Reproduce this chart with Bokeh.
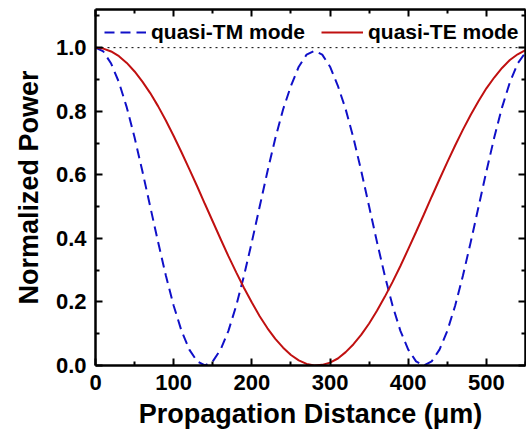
from bokeh.plotting import figure
from bokeh.models import (Range1d, LinearAxis, FixedTicker, Legend, LegendItem, Span,
                          CustomJSTickFormatter)
from bokeh.embed import file_html
from bokeh.resources import INLINE

distance = list(range(0, 551, 10))
tm_power = [1.000, 0.988, 0.950, 0.891, 0.812, 0.717, 0.611, 0.500, 0.389, 0.283,
            0.188, 0.109, 0.050, 0.013, 0.000, 0.013, 0.050, 0.109, 0.188, 0.283,
            0.389, 0.500, 0.611, 0.715, 0.806, 0.880, 0.940, 0.978, 0.990, 0.978,
            0.940, 0.880, 0.806, 0.715, 0.611, 0.500, 0.389, 0.283, 0.188, 0.109,
            0.050, 0.013, 0.000, 0.013, 0.050, 0.109, 0.188, 0.283, 0.389, 0.500,
            0.611, 0.717, 0.812, 0.891, 0.950, 0.985]
te_power = [1.000, 0.997, 0.988, 0.973, 0.952, 0.925, 0.893, 0.857, 0.816, 0.771,
            0.722, 0.671, 0.618, 0.564, 0.508, 0.453, 0.398, 0.344, 0.293, 0.244,
            0.198, 0.155, 0.117, 0.084, 0.056, 0.033, 0.016, 0.005, 0.000, 0.002,
            0.009, 0.022, 0.042, 0.067, 0.097, 0.132, 0.172, 0.216, 0.263, 0.313,
            0.366, 0.420, 0.475, 0.531, 0.586, 0.640, 0.692, 0.742, 0.789, 0.832,
            0.872, 0.906, 0.936, 0.961, 0.979, 0.992]
x_ticks = [0, 100, 200, 300, 400, 500]
x_minor = [50, 150, 250, 350, 450, 550]
y_ticks = [0.0, 0.2, 0.4, 0.6, 0.8, 1.0]
y_minor = [0.1, 0.3, 0.5, 0.7, 0.9, 1.1]
labels = ["quasi-TM mode", "quasi-TE mode"]
x_title = "Propagation Distance (\u03bcm)"
y_title = "Normalized Power"

FONT = "Liberation Sans"

p = figure(width=526, height=432, output_backend="svg", toolbar_location=None,
           x_range=Range1d(0, 550), y_range=Range1d(0, 1.12),
           min_border_left=95, min_border_right=1, min_border_top=9, min_border_bottom=67)
p.xgrid.visible = False
p.ygrid.visible = False
p.outline_line_color = None
p.background_fill_color = "white"

def style_axis(ax, ticks, minor, show_labels):
    ax.ticker = FixedTicker(ticks=ticks, minor_ticks=minor)
    ax.axis_line_width = 2.5
    ax.axis_line_color = "black"
    ax.major_tick_in = 7
    ax.major_tick_out = 0
    ax.minor_tick_in = 4
    ax.minor_tick_out = 0
    ax.major_tick_line_width = 2
    ax.minor_tick_line_width = 2
    ax.major_label_text_font = FONT
    ax.major_label_text_font_style = "bold"
    ax.major_label_text_font_size = "22px"
    ax.major_label_text_color = "black"
    if not show_labels:
        ax.formatter = CustomJSTickFormatter(code="return '';")
        ax.major_label_standoff = 0

xa = p.xaxis[0]
ya = p.yaxis[0]
style_axis(xa, x_ticks, x_minor, True)
style_axis(ya, y_ticks, y_minor, True)
xa.major_label_standoff = 9
ya.major_label_standoff = 9
ya.formatter = CustomJSTickFormatter(code="return tick.toFixed(1);")
xa.axis_label = x_title
ya.axis_label = y_title
for ax in (xa, ya):
    ax.axis_label_text_font = FONT
    ax.axis_label_text_font_style = "bold"
    ax.axis_label_text_font_size = "27px"
    ax.axis_label_text_color = "black"
xa.axis_label_standoff = 6
ya.axis_label_standoff = 9

top = LinearAxis()
style_axis(top, x_ticks, x_minor, False)
right = LinearAxis()
style_axis(right, y_ticks, y_minor, False)
p.add_layout(top, "above")
p.add_layout(right, "right")

p.add_layout(Span(location=1.0, dimension="width", line_color="black",
                  line_dash="dotted", line_width=1))

r_tm = p.line(distance, tm_power, line_color="#1010C8", line_width=2, line_dash="10 6")
r_te = p.line(distance, te_power, line_color="#C01010", line_width=2)

legend = Legend(items=[LegendItem(label=labels[0], renderers=[r_tm]),
                       LegendItem(label=labels[1], renderers=[r_te])],
                orientation="horizontal", location=(9, 321),
                border_line_color=None, background_fill_alpha=0,
                padding=0, margin=0, spacing=16, glyph_width=42, label_standoff=5,
                label_text_font=FONT, label_text_font_style="bold",
                label_text_font_size="21px", label_text_color="black")
p.add_layout(legend)

open("out.html", "w").write(file_html(p, INLINE))
